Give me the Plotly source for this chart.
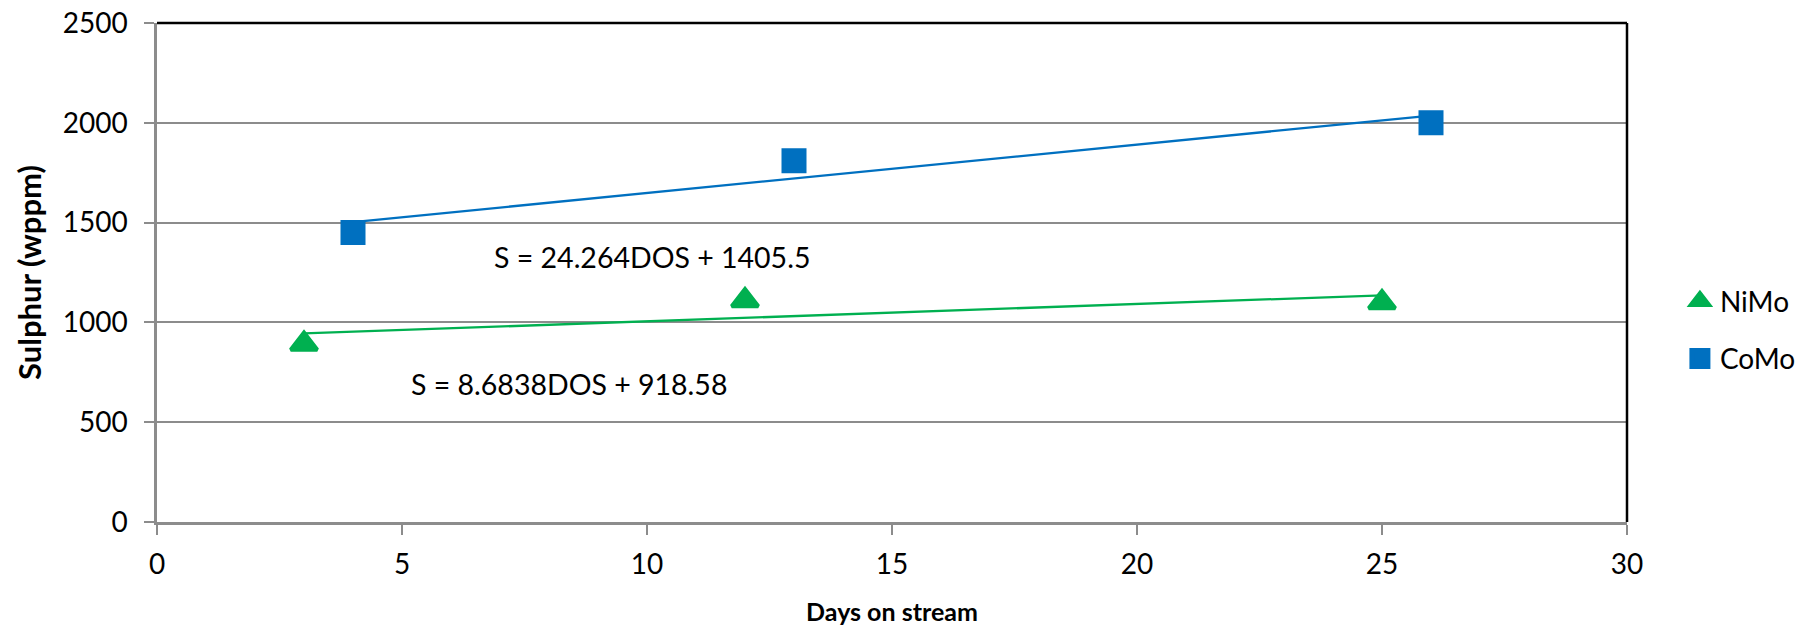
import plotly.graph_objects as go

# Sulphur in product vs days on stream for two catalysts
nimo_days = [3, 12, 25]
nimo_sulphur = [892, 1110, 1100]
como_days = [4, 13, 26]
como_sulphur = [1450, 1810, 2000]

# Linear trendline coefficients (slope, intercept) as stated in the labels
nimo_fit = (8.6838, 918.58)
como_fit = (24.264, 1405.5)

nimo_label = "S = 8.6838DOS + 918.58"
como_label = "S = 24.264DOS + 1405.5"

x_ticks = [0, 5, 10, 15, 20, 25, 30]
y_ticks = [0, 500, 1000, 1500, 2000, 2500]

GREEN = "#00B050"
BLUE = "#0070C0"
GRID = "#8C8C8C"
FONT = "Lato"


def trend(days, fit):
    xs = [min(days), max(days)]
    return xs, [fit[0] * x + fit[1] for x in xs]


fig = go.Figure()

for days, fit, color in [(nimo_days, nimo_fit, GREEN), (como_days, como_fit, BLUE)]:
    tx, ty = trend(days, fit)
    fig.add_trace(go.Scatter(x=tx, y=ty, mode="lines", showlegend=False,
                             line=dict(color=color, width=2.3), hoverinfo="skip"))

# an outline in the fill colour keeps the legend symbols as large as the markers
fig.add_trace(go.Scatter(x=nimo_days, y=nimo_sulphur, mode="markers", name="NiMo",
                         legendgroup="nimo",
                         marker=dict(symbol="triangle-up", size=23, color=GREEN,
                                     line=dict(color=GREEN, width=4))))
fig.add_trace(go.Scatter(x=como_days, y=como_sulphur, mode="markers", name="CoMo",
                         legendgroup="como",
                         marker=dict(symbol="square", size=20, color=BLUE,
                                     line=dict(color=BLUE, width=5))))

fig.add_annotation(x=10.1, y=1329, text=como_label, showarrow=False,
                   font=dict(family=FONT, size=28.5, color="black"))
fig.add_annotation(x=8.4, y=693, text=nimo_label, showarrow=False,
                   font=dict(family=FONT, size=28.5, color="black"))

# Plot-area border on the top and right
fig.add_shape(type="line", xref="paper", yref="paper", x0=0, x1=1, y0=1, y1=1,
              line=dict(color="black", width=2.5))
fig.add_shape(type="line", xref="paper", yref="paper", x0=1, x1=1, y0=0, y1=1,
              line=dict(color="black", width=2.5))

fig.update_layout(
    width=1820, height=632,
    margin=dict(l=157, r=193, t=23, b=110),
    paper_bgcolor="white", plot_bgcolor="white",
    font=dict(family=FONT, size=28, color="black"),
    legend=dict(x=1.036, y=0.385, xanchor="left", yanchor="middle",
                traceorder="grouped", tracegroupgap=18,
                font=dict(family=FONT, size=28), itemsizing="trace",
                bgcolor="rgba(0,0,0,0)"),
    xaxis=dict(range=[0, 30], tickvals=x_ticks, ticks="outside", ticklen=10,
               tickwidth=2, tickcolor=GRID, showgrid=False, showline=True,
               linecolor=GRID, linewidth=2.5, zeroline=False, automargin=False,
               ticklabelstandoff=6,
               title=dict(text="<b>Days on stream</b>", standoff=25,
                          font=dict(family=FONT, size=25))),
    yaxis=dict(range=[0, 2500], tickvals=y_ticks, ticks="outside", ticklen=10,
               tickwidth=2, tickcolor=GRID, showgrid=True, gridcolor=GRID,
               gridwidth=2, showline=True, linecolor=GRID, linewidth=2.5,
               zeroline=False, automargin=False, ticklabelstandoff=11,
               title=dict(text="<b>Sulphur (wppm)</b>", standoff=12,
                          font=dict(family=FONT, size=31))),
)

fig.write_html("out.html")
